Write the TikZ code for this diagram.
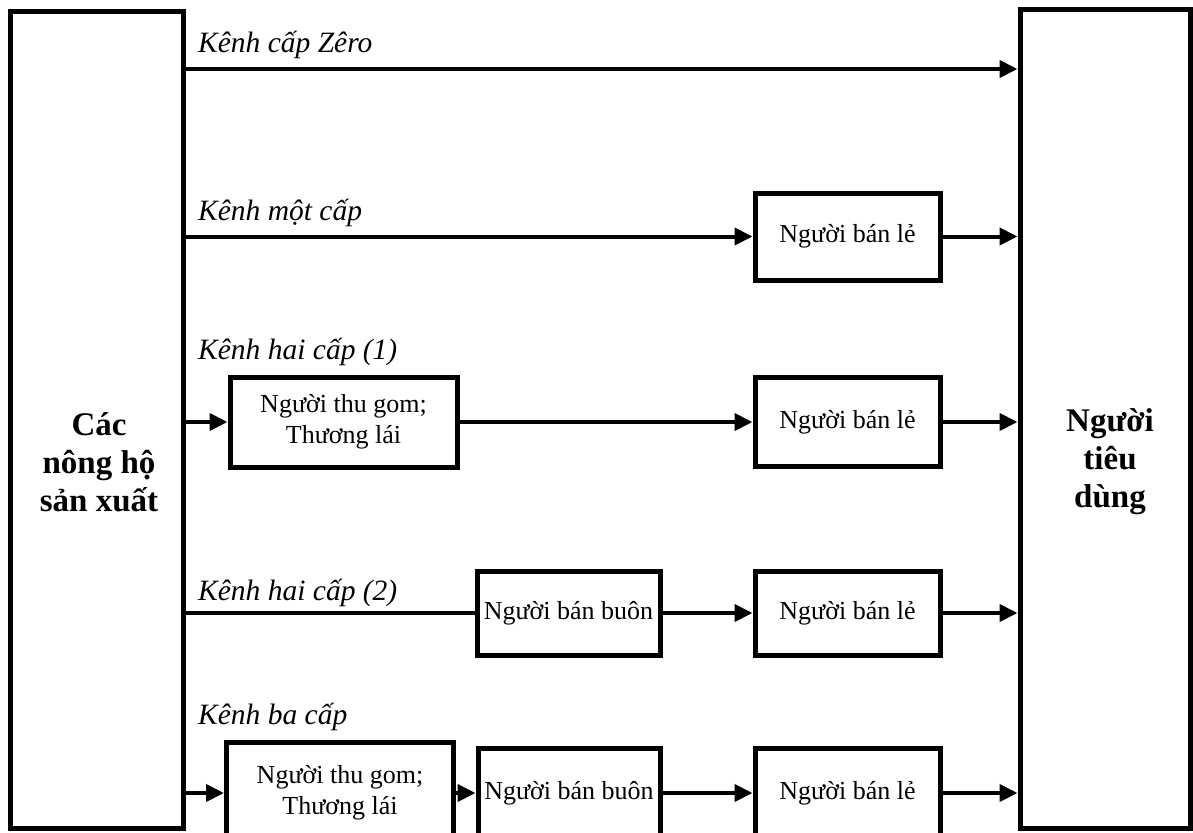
\documentclass[tikz,border=0pt]{standalone}
\usepackage{fontspec}
\setmainfont{Liberation Serif}
\usetikzlibrary{arrows.meta}

\tikzset{
  bigbox/.style={draw, line width=5pt, rectangle, inner sep=0pt},
  agent/.style={draw, line width=5pt, rectangle, inner sep=0pt, align=center,
    font=\fontsize{26}{31}\selectfont},
  headtext/.style={align=center, font=\fontsize{33}{38}\selectfont\bfseries},
  chanlabel/.style={anchor=west, inner sep=0pt, font=\fontsize{29.5}{32}\selectfont\itshape},
  flow/.style={line width=4pt, -{Triangle[length=18pt,width=17pt]}},
  feed/.style={line width=4pt}
}

\begin{document}
\begin{tikzpicture}[x=1pt,y=-1pt]
\useasboundingbox (0,0) rectangle (1193,832);
\clip (0,0) rectangle (1193,832);

% producers and consumers
\node[bigbox, minimum width=173pt, minimum height=816pt] (farm) at (96.5,420) {};
\node[headtext] (farmtxt) at (99,462) {Các\\nông hộ\\sản xuất};
\node[bigbox, minimum width=170pt, minimum height=818pt] (consumer) at (1105,419) {};
\node[headtext] (consumertxt) at (1110,462) {Người\\tiêu\\dùng};

% channel levels
\coordinate (lvl0) at (0,69);

% intermediaries
\node[agent, minimum width=185pt, minimum height=87pt] (retailA) at (847.5,236.5) {Người bán lẻ};

\node[agent, minimum width=227pt, minimum height=90pt] (collectA) at (343.5,422) {Người thu gom;\\Thương lái};
\node[agent, minimum width=185pt, minimum height=89pt] (retailB) at (847.5,422) {Người bán lẻ};

\node[agent, minimum width=183pt, minimum height=84pt] (wholeA) at (568.5,613) {Người bán buôn};
\node[agent, minimum width=185pt, minimum height=84pt] (retailC) at (847.5,613) {Người bán lẻ};

\node[agent, minimum width=227pt, minimum height=102pt] (collectB) at (340,793) {Người thu gom;\\Thương lái};
\node[agent, minimum width=182pt, minimum height=90pt] (wholeB) at (569,793) {Người bán buôn};
\node[agent, minimum width=185pt, minimum height=90pt] (retailD) at (847.5,793) {Người bán lẻ};

% channel names
\node[chanlabel] (lab0) at (198,45) {Kênh cấp Zêro};
\node[chanlabel] (lab1) at (198,213) {Kênh một cấp};
\node[chanlabel] (lab2) at (198,352) {Kênh hai cấp (1)};
\node[chanlabel] (lab3) at (198,593) {Kênh hai cấp (2)};
\node[chanlabel] (lab4) at (198,717) {Kênh ba cấp};

% zero-level channel
\draw[flow] (farm.east |- lvl0) -- (consumer.west |- lvl0);

% one-level channel
\draw[flow] (farm.east |- retailA.west) -- (retailA.west);
\draw[flow] (retailA.east) -- (consumer.west |- retailA.east);

% two-level channel (1)
\draw[flow] (farm.east |- collectA.west) -- (collectA.west);
\draw[flow] (collectA.east) -- (retailB.west);
\draw[flow] (retailB.east) -- (consumer.west |- retailB.east);

% two-level channel (2)
\draw[feed] (farm.east |- wholeA.west) -- (wholeA.west);
\draw[flow] (wholeA.east) -- (retailC.west);
\draw[flow] (retailC.east) -- (consumer.west |- retailC.east);

% three-level channel
\draw[flow] (farm.east |- collectB.west) -- (collectB.west);
\draw[flow] (collectB.east) -- (wholeB.west);
\draw[flow] (wholeB.east) -- (retailD.west);
\draw[flow] (retailD.east) -- (consumer.west |- retailD.east);
\end{tikzpicture}
\end{document}
